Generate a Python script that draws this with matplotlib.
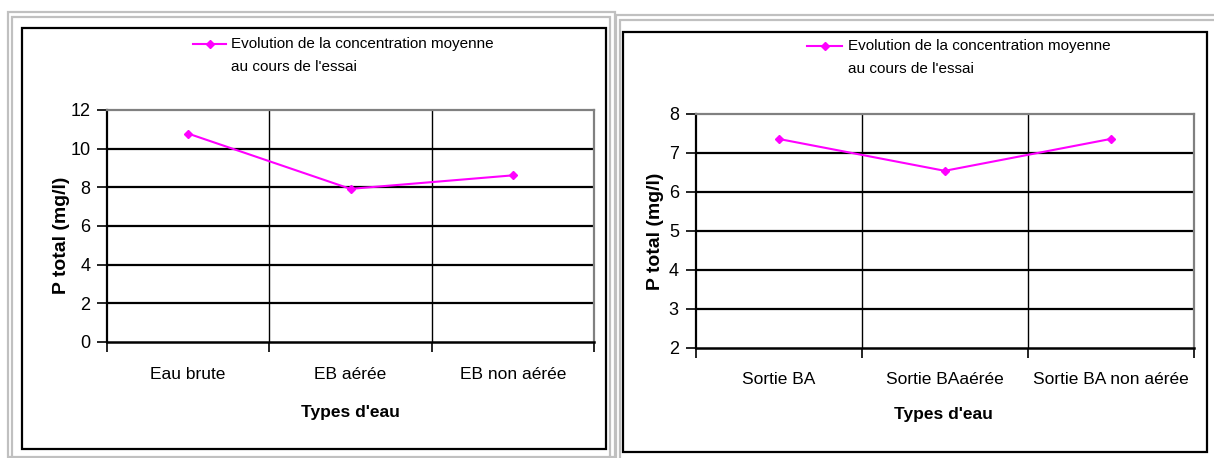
import matplotlib
matplotlib.use("Agg")
import matplotlib.pyplot as plt
from matplotlib.lines import Line2D
from matplotlib.patches import Rectangle

# --- data -------------------------------------------------------------
left_categories = ["Eau brute", "EB aérée", "EB non aérée"]
left_values = [10.78, 7.92, 8.62]
left_yticks = [0, 2, 4, 6, 8, 10, 12]

right_categories = ["Sortie BA", "Sortie BAaérée", "Sortie BA non aérée"]
right_values = [7.36, 6.54, 7.36]
right_yticks = [2, 3, 4, 5, 6, 7, 8]

series_label = "Evolution de la concentration moyenne\nau cours de l'essai"
x_label = "Types d'eau"
y_label = "P total (mg/l)"

FONT = "Liberation Sans"

W, H = 1214, 458
DPI = 100
fig = plt.figure(figsize=(W / DPI, H / DPI), dpi=DPI)
fig.patch.set_facecolor("white")

MAGENTA = "#FF00FF"
GRAY = "#C0C0C0"


def fx(x):
    return x / W


def fy(y):
    return 1 - y / H


def frame(x0, y0, x1, y1, color, lw):
    fig.add_artist(Rectangle((fx(x0), fy(y1)), fx(x1) - fx(x0), fy(y0) - fy(y1),
                             transform=fig.transFigure, fill=False,
                             edgecolor=color, linewidth=lw, zorder=0))


# outer double grey frames
frame(7.5, 12, 615, 456.5, GRAY, 1.6)
frame(12.5, 17, 610, 470, GRAY, 1.6)
frame(616, 15, 1230, 470, GRAY, 1.6)
frame(620, 20, 1230, 470, GRAY, 1.6)

# black chart borders
frame(22, 28, 606, 449, "black", 1.6)
frame(623, 32, 1207, 452, "black", 1.6)


def draw_panel(box, cats, vals, yticks, legend_pos, ylab_pos, xlab_pos):
    x0, y0, x1, y1 = box
    ax = fig.add_axes([fx(x0), fy(y1), fx(x1) - fx(x0), fy(y0) - fy(y1)])
    n = len(cats)
    xs = list(range(n))
    ax.plot(xs, vals, color=MAGENTA, lw=1.5, marker="D", ms=4.5,
            mec=MAGENTA, mfc=MAGENTA, zorder=5, clip_on=False)
    ax.set_xlim(-0.5, n - 0.5)
    ax.set_ylim(yticks[0], yticks[-1])
    ax.set_yticks(yticks)
    ax.set_yticklabels([str(t) for t in yticks], fontfamily=FONT, fontsize=13)
    # category boundaries carry the ticks and vertical gridlines
    bounds = [i - 0.5 for i in range(n + 1)]
    ax.set_xticks(bounds)
    ax.set_xticklabels([""] * len(bounds))
    ax.set_xticks(xs, minor=True)
    ax.set_xticklabels(cats, minor=True, fontfamily=FONT, fontsize=12.5)
    ax.tick_params(axis="x", which="minor", length=0, pad=18)
    ax.tick_params(axis="x", which="major", length=7, width=1.2, direction="out")
    ax.tick_params(axis="y", length=7, width=1.2, direction="out", pad=5)
    for yv in yticks[1:-1]:
        ax.axhline(yv, color="black", lw=1.6, zorder=1)
    for b in bounds[1:-1]:
        ax.axvline(b, color="black", lw=1.0, zorder=1)
    ax.spines["left"].set_color("black")
    ax.spines["left"].set_linewidth(1.6)
    ax.spines["bottom"].set_color("black")
    ax.spines["bottom"].set_linewidth(1.8)
    ax.spines["top"].set_color("#808080")
    ax.spines["top"].set_linewidth(1.6)
    ax.spines["right"].set_color("#808080")
    ax.spines["right"].set_linewidth(1.6)

    # legend entry
    lx0, lx1, ly, tx = legend_pos
    fig.add_artist(Line2D([fx(lx0), fx(lx1)], [fy(ly), fy(ly)], transform=fig.transFigure,
                          color=MAGENTA, lw=1.5))
    fig.add_artist(Line2D([fx((lx0 + lx1) / 2)], [fy(ly)], transform=fig.transFigure,
                          color=MAGENTA, marker="D", ms=4.5, lw=0))
    fig.text(fx(tx), fy(ly - 7), series_label, fontfamily=FONT, fontsize=11,
             ha="left", va="top", linespacing=1.8)

    fig.text(fx(ylab_pos[0]), fy(ylab_pos[1]), y_label, rotation=90,
             fontfamily=FONT, fontweight="bold", fontsize=14,
             ha="center", va="center")
    fig.text(fx(xlab_pos[0]), fy(xlab_pos[1]), x_label,
             fontfamily=FONT, fontweight="bold", fontsize=12.5,
             ha="center", va="center")
    return ax


draw_panel((107, 110, 594, 342), left_categories, left_values, left_yticks,
           (193, 226, 44, 231), (61, 235), (350, 412))
draw_panel((695.5, 114, 1194, 347.5), right_categories, right_values, right_yticks,
           (807, 842, 46, 848), (655, 231), (943, 414))

fig.savefig("out.png", dpi=DPI, facecolor="white")
